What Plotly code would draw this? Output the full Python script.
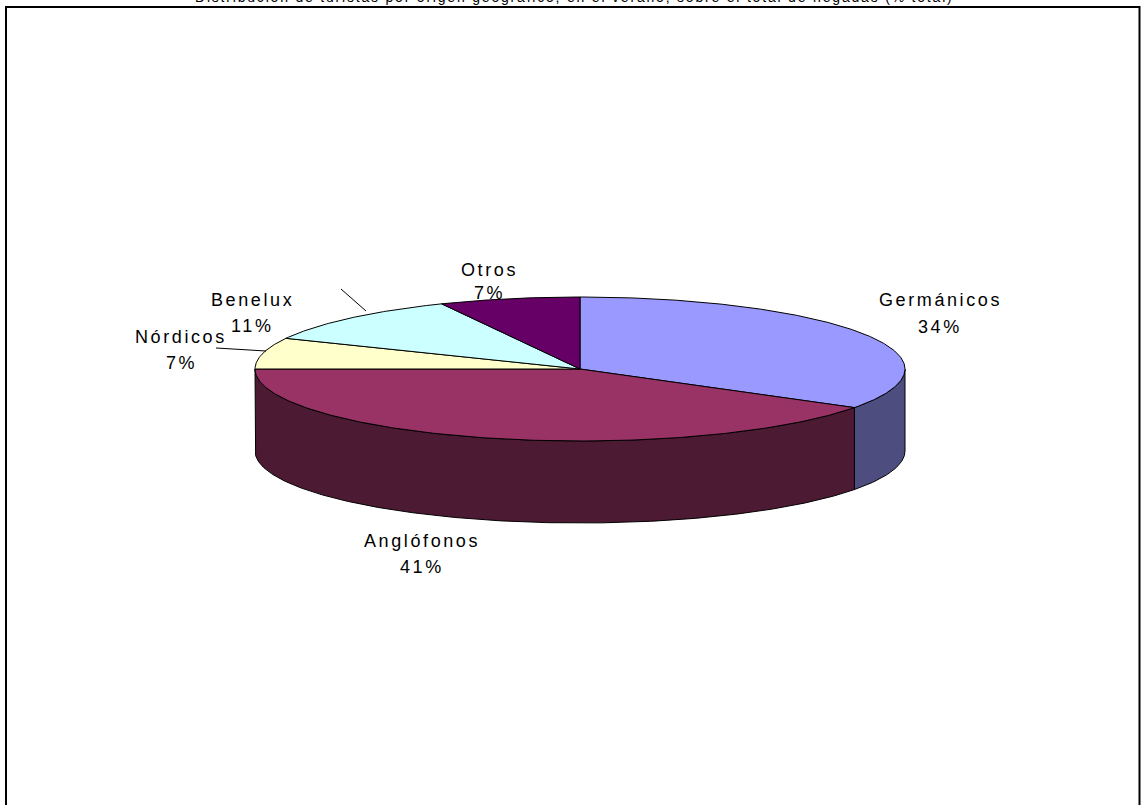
import numpy as np
import plotly.graph_objects as go

# Shares of summer visitors by region of origin (%)
regions = ["Germánicos", "Anglófonos", "Nórdicos", "Benelux", "Otros"]
shares = [34, 41, 7, 11, 7]

top_colors = ["#9999FF", "#993366", "#FFFFCC", "#CCFFFF", "#660066"]
side_colors = ["#4D4D80", "#4D1A33", "#80806A", "#6A8080", "#330033"]

title_text = ("Distribución de turistas por origen geográfico, en el verano, "
              "sobre el total de llegadas (% total)")

W, H = 1141, 805
# ellipse geometry of the tilted pie (pixel space)
CX, CY, RX, RY, DEPTH = 580, 369, 325, 72, 82

# label anchor points: (name line, percentage line)
label_pos = {
    "Germánicos": ((940, 300), (940, 327)),
    "Anglófonos": ((422, 541), (422, 567)),
    "Nórdicos": ((181, 337), (181, 363)),
    "Benelux": ((252, 300), (252, 326)),
    "Otros": ((489, 270), (489, 293)),
}


def rim(theta_deg, drop=0.0):
    """Point on the pie rim; angle measured clockwise from 12 o'clock."""
    t = np.radians(theta_deg)
    return CX + RX * np.sin(t), CY - RY * np.cos(t) + drop


total = float(sum(shares))
bounds = np.concatenate([[0.0], np.cumsum(shares)]) / total * 360.0

fig = go.Figure()

# visible outer walls (front half of the disc)
for i, (t0, t1) in enumerate(zip(bounds[:-1], bounds[1:])):
    a, b = max(t0, 90.0), min(t1, 270.0)
    if a >= b:
        continue
    th = np.linspace(a, b, int(b - a) * 2 + 2)
    xt, yt = rim(th)
    xb, yb = rim(th[::-1], DEPTH)
    xs = np.concatenate([xt, xb, xt[:1]])
    ys = np.concatenate([yt, yb, yt[:1]])
    fig.add_trace(go.Scatter(
        x=xs, y=ys, mode="lines", fill="toself",
        fillcolor=side_colors[i], line=dict(color="black", width=1),
        hoverinfo="skip", showlegend=False))

# top faces of the slices
for i, (t0, t1) in enumerate(zip(bounds[:-1], bounds[1:])):
    th = np.linspace(t0, t1, int(t1 - t0) * 2 + 2)
    x, y = rim(th)
    xs = np.concatenate([[CX], x, [CX]])
    ys = np.concatenate([[CY], y, [CY]])
    fig.add_trace(go.Scatter(
        x=xs, y=ys, mode="lines", fill="toself",
        fillcolor=top_colors[i], line=dict(color="black", width=1),
        hoverinfo="skip", showlegend=False))


def spaced(txt, ls):
    return f'<span style="letter-spacing:{ls}px">{txt}</span>'


annotations = []
for name, val in zip(regions, shares):
    (nx, ny), (px, py) = label_pos[name]
    for txt, (x, y) in ((name, (nx, ny)), (f"{val}%", (px, py))):
        annotations.append(dict(
            x=x, y=y, xref="x", yref="y", text=spaced(txt, 2.6),
            showarrow=False, xanchor="center", yanchor="middle",
            font=dict(family="Arial, Liberation Sans", size=18, color="black")))

# title sits at the very top edge of the page, mostly above it
annotations.append(dict(
    x=574 / W, y=1, xref="paper", yref="paper", text=spaced(title_text, 1.8),
    showarrow=False, xanchor="center", yanchor="middle", yshift=3,
    font=dict(family="Arial, Liberation Sans", size=14, color="black")))

shapes = [
    # chart frame
    dict(type="rect", xref="x", yref="y", x0=6, y0=7, x1=1139.5, y1=840,
         line=dict(color="black", width=2), fillcolor="rgba(0,0,0,0)"),
    # leader lines
    dict(type="line", xref="x", yref="y", x0=216, y0=348, x1=266, y1=351,
         line=dict(color="black", width=1)),
    dict(type="line", xref="x", yref="y", x0=341, y0=289, x1=366, y1=311,
         line=dict(color="black", width=1)),
]

fig.update_layout(
    width=W, height=H,
    margin=dict(l=0, r=0, t=0, b=0),
    paper_bgcolor="white", plot_bgcolor="white",
    xaxis=dict(range=[0, W], visible=False, fixedrange=True),
    yaxis=dict(range=[H, 0], visible=False, fixedrange=True),
    annotations=annotations, shapes=shapes,
    showlegend=False,
)

fig.write_html("out.html")
